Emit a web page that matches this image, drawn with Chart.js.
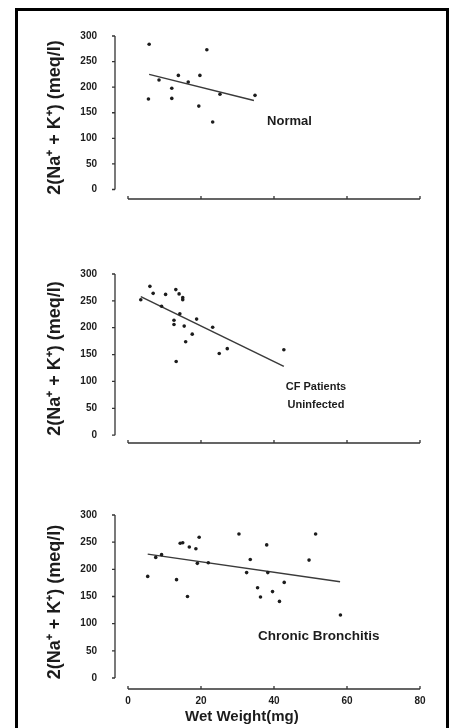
<!DOCTYPE html>
<html>
<head>
<meta charset="utf-8">
<script src="https://cdn.jsdelivr.net/npm/chart.js@4.4.0/dist/chart.umd.min.js"></script>
<style>
  body { margin: 0; background: #fff; }
  #frame { position: absolute; left: 15px; top: 8px; width: 434px; height: 740px;
           border: 3px solid #000; border-bottom: none; box-sizing: border-box; }
  canvas { position: absolute; left: 0; }
</style>
</head>
<body>
<div id="frame"></div>
<canvas id="c1" width="454" height="228" style="top:12px"></canvas>
<canvas id="c2" width="454" height="230" style="top:250px"></canvas>
<canvas id="c3" width="454" height="238" style="top:490px"></canvas>
<script>
// axis ticks
const xTicks = [0, 20, 40, 60, 80];
const yTicks = [0, 50, 100, 150, 200, 250, 300];
const yTitle = "2(Na\u207A + K\u207A) (meq/l)";
const xTitle = "Wet Weight(mg)";

// Normal
const normalX = [5.8, 8.5, 5.6, 12, 12, 13.8, 16.5, 19.7, 21.6, 19.4, 23.2, 25.2, 34.8];
const normalY = [284, 214, 177, 198, 178, 223, 210, 223, 273, 163, 132, 186, 184];
const normalFitX = [5.8, 34.5];
const normalFitY = [225, 174];
const normalNote = ["Normal"];

// CF patients, uninfected
const cfX = [3.5, 6.0, 6.9, 10.3, 13.1, 14.0, 15.0, 15.0, 9.2, 14.2, 12.6, 12.6, 15.4, 18.8, 23.2, 17.6, 15.8, 13.2, 25.0, 27.2, 42.7];
const cfY = [252, 277, 264, 262, 271, 263, 256, 252, 240, 226, 214, 206, 203, 216, 201, 188, 174, 137, 152, 161, 159];
const cfFitX = [3.5, 42.7];
const cfFitY = [258, 128];
const cfNote = ["CF Patients", "Uninfected"];

// Chronic bronchitis
const cbX = [5.4, 7.6, 9.2, 13.3, 14.3, 15.0, 16.8, 16.3, 18.6, 19.5, 19.0, 22.0, 30.4, 32.5, 33.5, 38.0, 38.3, 35.5, 36.3, 39.6, 41.5, 42.8, 49.6, 51.4, 58.2];
const cbY = [187, 222, 227, 181, 248, 249, 241, 150, 238, 259, 211, 212, 265, 194, 218, 245, 194, 166, 149, 159, 141, 176, 217, 265, 116];
const cbFitX = [5.4, 58.1];
const cbFitY = [228, 177];
const cbNote = ["Chronic Bronchitis"];

const ink = "#1c1c1c";
const font = "'Liberation Sans', Arial, sans-serif";

const toPoints = (xs, ys) => xs.map((x, i) => ({ x: x, y: ys[i] }));

// axis lines, tick marks, labels inside the plot
const panelDecor = {
  id: "panelDecor",
  afterDraw(chart) {
    const { ctx, scales: { x, y } } = chart;
    const o = chart.options.plugins.panelDecor;
    const left = chart.chartArea.left;
    const bottom = chart.chartArea.bottom;
    ctx.save();
    ctx.strokeStyle = "#333";
    ctx.lineWidth = 1.3;
    // y axis
    ctx.beginPath();
    ctx.moveTo(left, y.getPixelForValue(300));
    ctx.lineTo(left, y.getPixelForValue(0));
    yTicks.forEach(v => {
      const py = y.getPixelForValue(v);
      ctx.moveTo(left - 3, py);
      ctx.lineTo(left, py);
    });
    // x axis
    ctx.moveTo(x.getPixelForValue(0), bottom);
    ctx.lineTo(x.getPixelForValue(80), bottom);
    xTicks.forEach(v => {
      const px = x.getPixelForValue(v);
      ctx.moveTo(px, bottom);
      ctx.lineTo(px, bottom - 3);
    });
    ctx.stroke();

    // note text
    ctx.fillStyle = ink;
    ctx.font = "bold " + o.noteSize + "px " + font;
    ctx.textAlign = o.noteAlign;
    ctx.textBaseline = "middle";
    o.note.forEach((t, i) => {
      ctx.fillText(t, x.getPixelForValue(o.noteX), y.getPixelForValue(o.noteY) + i * 18);
    });

    if (o.xTitle) {
      ctx.font = "bold 15px " + font;
      ctx.textAlign = "center";
      ctx.fillText(xTitle, x.getPixelForValue(31.2), bottom + 28);
    }
    ctx.restore();
  }
};

function makePanel(id, xs, ys, fitX, fitY, note, opt) {
  new Chart(document.getElementById(id), {
    type: "scatter",
    data: {
      datasets: [
        {
          data: toPoints(xs, ys),
          pointRadius: 1.8,
          pointBackgroundColor: ink,
          pointBorderWidth: 0,
          clip: false
        },
        {
          type: "line",
          data: toPoints(fitX, fitY),
          borderColor: "#3a3a3a",
          borderWidth: 1.5,
          pointRadius: 0,
          fill: false,
          clip: false
        }
      ]
    },
    options: {
      responsive: false,
      animation: false,
      layout: { padding: { top: opt.padTop, left: 40, right: 34, bottom: 0 } },
      plugins: {
        legend: { display: false },
        tooltip: { enabled: false },
        panelDecor: {
          note: note, noteX: opt.noteX, noteY: opt.noteY,
          noteAlign: opt.noteAlign, noteSize: opt.noteSize, xTitle: opt.showX
        }
      },
      scales: {
        x: {
          type: "linear",
          min: -3.56,
          max: 80,
          afterBuildTicks: axis => { axis.ticks = xTicks.map(v => ({ value: v })); },
          afterFit: axis => { axis.height = opt.xHeight; },
          grid: { display: false, drawTicks: false },
          border: { display: false },
          ticks: {
            display: opt.showX,
            padding: 6,
            color: ink,
            font: { family: font, size: 10, weight: "bold" }
          }
        },
        y: {
          min: opt.yMin,
          max: 300,
          afterBuildTicks: axis => { axis.ticks = yTicks.map(v => ({ value: v })); },
          afterFit: axis => { axis.width = 75; },
          grid: { display: false, drawTicks: false },
          border: { display: false },
          ticks: {
            padding: 18,
            color: ink,
            font: { family: font, size: 10, weight: "bold" }
          },
          title: {
            display: true,
            text: yTitle,
            color: ink,
            padding: { top: 4, bottom: 0 },
            font: { family: font, size: 18, weight: "bold" }
          }
        }
      }
    },
    plugins: [panelDecor]
  });
}

makePanel("c1", normalX, normalY, normalFitX, normalFitY, normalNote,
  { padTop: 16, xHeight: 41, yMin: -18.6, noteX: 38.1, noteY: 134, noteAlign: "left", noteSize: 13, showX: false });
makePanel("c2", cfX, cfY, cfFitX, cfFitY, cfNote,
  { padTop: 21, xHeight: 37, yMin: -14.6, noteX: 51.5, noteY: 90, noteAlign: "center", noteSize: 11, showX: false });
makePanel("c3", cbX, cbY, cbFitX, cbFitY, cbNote,
  { padTop: 25, xHeight: 39, yMin: -20.2, noteX: 35.6, noteY: 77, noteAlign: "left", noteSize: 13.5, showX: true });
</script>
</body>
</html>
